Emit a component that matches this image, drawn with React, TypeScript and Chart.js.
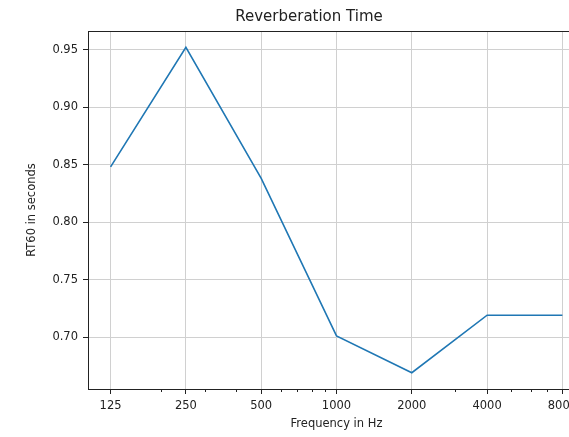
import React, { useEffect, useRef } from "react";
import { Chart, registerables } from "chart.js";

Chart.register(...registerables);

const frequencies = [125, 250, 500, 1000, 2000, 4000, 8000];
const rt60 = [0.848, 0.952, 0.838, 0.701, 0.669, 0.719, 0.719];
const xTickLabels = ["125", "250", "500", "1000", "2000", "4000", "8000"];
const xMinorTicks = [200, 300, 400, 600, 700, 800, 900, 3000, 5000, 6000, 7000];
const yTicks = [0.70, 0.75, 0.80, 0.85, 0.90, 0.95];

const FONT = "'DejaVu Sans', sans-serif";

export default function App() {
  const ref = useRef<HTMLCanvasElement | null>(null);

  useEffect(() => {
    if (!ref.current) return;
    const lo = Math.min(...rt60);
    const hi = Math.max(...rt60);
    const yMin = lo - 0.05 * (hi - lo);
    const yMax = hi + 0.05 * (hi - lo);
    const octaves = Math.log2(frequencies[frequencies.length - 1] / frequencies[0]);
    const xMin = frequencies[0] * Math.pow(2, -0.05 * octaves);
    const xMax = frequencies[frequencies.length - 1] * Math.pow(2, 0.05 * octaves);

    const frame = {
      id: "frame",
      afterDatasetsDraw(chart: any) {
        const { ctx, chartArea } = chart;
        ctx.save();
        ctx.strokeStyle = "#222";
        ctx.lineWidth = 1;
        ctx.strokeRect(chartArea.left + 0.5, chartArea.top + 0.5, chartArea.right - chartArea.left, chartArea.bottom - chartArea.top);
        ctx.restore();
      },
    };

    const chart = new Chart(ref.current, {
      type: "line",
      data: {
        datasets: [
          {
            data: frequencies.map((f, i) => ({ x: f, y: rt60[i] })),
            borderColor: "#1f77b4",
            borderWidth: 1.6,
            pointRadius: 0,
            fill: false,
            tension: 0,
          },
        ],
      },
      options: {
        animation: false,
        responsive: false,
        layout: { padding: 0 },
        plugins: {
          legend: { display: false },
          tooltip: { enabled: false },
          title: {
            display: true,
            text: "Reverberation Time",
            color: "#222",
            font: { family: FONT, size: 15, weight: "normal" },
            padding: { top: 8, bottom: 5 },
          },
        },
        scales: {
          x: {
            type: "logarithmic",
            min: xMin,
            max: xMax,
            bounds: "data",
            position: "bottom",
            afterBuildTicks: (s: any) => {
              s.ticks = frequencies.map((v) => ({ value: v }));
            },
            afterFit: (s: any) => {
              s.height = 48;
            },
            ticks: {
              autoSkip: false,
              maxRotation: 0,
              padding: 5,
              color: "#222",
              font: { family: FONT, size: 11.5 },
              callback: (_v: any, i: number) => xTickLabels[i],
            },
            grid: { color: "#d0d0d0", lineWidth: 1, tickColor: "#222", tickLength: 5 },
            border: { display: true, color: "#222", width: 1 },
            title: {
              display: true,
              text: "Frequency in Hz",
              color: "#222",
              font: { family: FONT, size: 11.5 },
              padding: { top: 0, bottom: 6 },
            },
          },
          xMinor: {
            type: "logarithmic",
            min: xMin,
            max: xMax,
            bounds: "data",
            position: { y: yMin } as any,
            afterBuildTicks: (s: any) => {
              s.ticks = xMinorTicks.map((v) => ({ value: v }));
            },
            ticks: { display: false, autoSkip: false },
            grid: { drawOnChartArea: false, drawTicks: true, tickLength: 3, tickColor: "#222" },
            border: { display: false },
          },
          y: {
            type: "linear",
            min: yMin,
            max: yMax,
            afterBuildTicks: (s: any) => {
              s.ticks = yTicks.map((v) => ({ value: v }));
            },
            afterFit: (s: any) => {
              s.width = 88;
            },
            ticks: {
              padding: 5,
              color: "#222",
              font: { family: FONT, size: 11.5 },
              callback: (v: any) => Number(v).toFixed(2),
            },
            grid: { color: "#d0d0d0", lineWidth: 1, tickColor: "#222", tickLength: 5 },
            border: { display: true, color: "#222", width: 1 },
            title: {
              display: true,
              text: "RT60 in seconds",
              color: "#222",
              font: { family: FONT, size: 11.5 },
              padding: { top: 25, bottom: 0 },
            },
          },
          yRightSpace: {
            type: "linear",
            position: "right",
            min: yMin,
            max: yMax,
            afterFit: (s: any) => {
              s.width = 33;
            },
            ticks: { display: false },
            grid: { display: false, drawOnChartArea: false, drawTicks: false },
            border: { display: false },
          },
        },
      },
      plugins: [frame],
    });
    return () => chart.destroy();
  }, []);

  return (
    <div
      style={{
        position: "fixed",
        left: 0,
        top: 0,
        width: 569,
        height: 437,
        overflow: "hidden",
        background: "#fff",
      }}
    >
      <canvas ref={ref} width={618} height={437} style={{ display: "block" }} />
    </div>
  );
}
